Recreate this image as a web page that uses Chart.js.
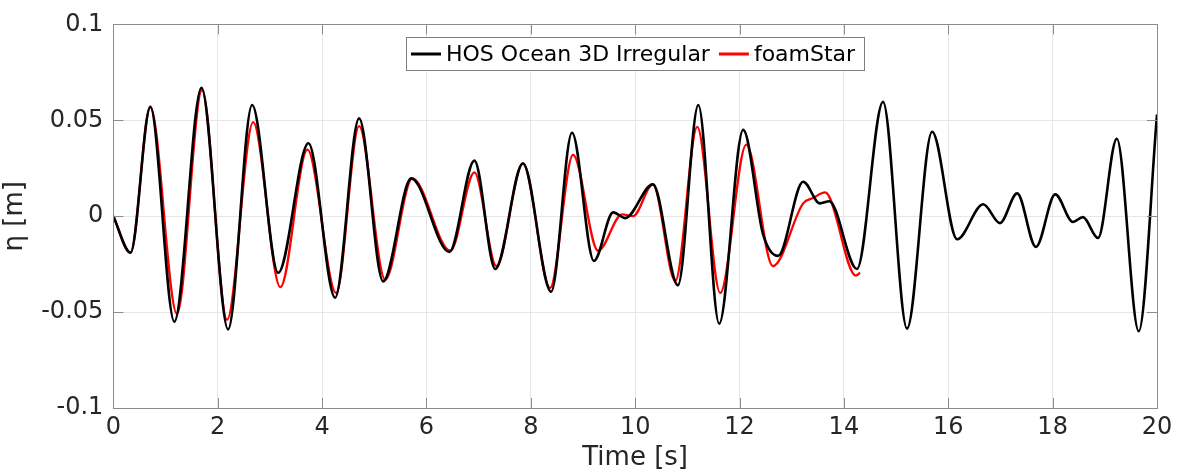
<!DOCTYPE html>
<html>
<head>
<meta charset="utf-8">
<script src="https://cdn.jsdelivr.net/npm/chart.js@4/dist/chart.umd.min.js"></script>
<style>
  html, body { margin: 0; padding: 0; background: #fff; }
  #wrap { width: 1181px; height: 476px; }
</style>
</head>
<body>
<div id="wrap"><canvas id="etaChart"></canvas></div>
<script>
// HOS Ocean 3D Irregular (black)
const hosTime = [0, 0.33, 0.71, 1.17, 1.69, 2.20, 2.66, 3.16, 3.74, 4.25, 4.71, 5.17, 5.71, 6.44, 6.92, 7.32, 7.85, 8.39, 8.79, 9.21, 9.58, 9.81, 10.34, 10.82, 11.21, 11.61, 12.07, 12.45, 12.74, 13.22, 13.54, 13.72, 14.25, 14.75, 15.21, 15.69, 16.17, 16.67, 16.99, 17.32, 17.68, 18.05, 18.39, 18.58, 18.87, 19.23, 19.65, 20.0];
const hosEta = [0, -0.019, 0.057, -0.055, 0.067, -0.059, 0.058, -0.0295, 0.038, -0.0425, 0.051, -0.034, 0.0197, -0.0187, 0.029, -0.0275, 0.0275, -0.0394, 0.0435, -0.0233, 0.002, -0.001, 0.0166, -0.036, 0.058, -0.056, 0.045, -0.0093, -0.0207, 0.018, 0.0067, 0.0078, -0.0275, 0.0596, -0.0586, 0.044, -0.012, 0.0062, -0.0036, 0.0119, -0.016, 0.0114, -0.003, -0.0005, -0.0114, 0.0404, -0.060, 0.053];

// foamStar (red)
const foamTime = [0, 0.33, 0.71, 1.22, 1.70, 2.18, 2.68, 3.20, 3.72, 4.27, 4.71, 5.21, 5.73, 6.46, 6.92, 7.34, 7.85, 8.37, 8.81, 9.29, 9.75, 9.96, 10.34, 10.77, 11.19, 11.63, 12.13, 12.64, 13.22, 13.41, 13.64, 14.23, 14.31];
const foamEta = [0, -0.019, 0.057, -0.051, 0.0658, -0.054, 0.049, -0.037, 0.0347, -0.040, 0.047, -0.033, 0.0197, -0.018, 0.0228, -0.026, 0.0275, -0.0373, 0.032, -0.018, 0.001, 0.0, 0.0166, -0.0337, 0.0466, -0.040, 0.0373, -0.026, 0.0067, 0.0095, 0.0124, -0.031, -0.0295];

const seriesNames = ['HOS Ocean 3D Irregular', 'foamStar'];
const xTicks = [0, 2, 4, 6, 8, 10, 12, 14, 16, 18, 20];
const yTicks = [-0.1, -0.05, 0, 0.05, 0.1];

const FONT = 'DejaVu Sans';
const TEXT = '#262626';

function toPoints(xs, ys) {
    return xs.map((x, i) => ({ x: x, y: ys[i] }));
}

// box around the axes, inward ticks
const framePlugin = {
    id: 'frame',
    afterDatasetsDraw(chart) {
        const ctx = chart.ctx;
        const a = chart.chartArea;
        const xs = chart.scales.x, ys = chart.scales.y;
        ctx.save();
        ctx.strokeStyle = '#8c8c8c';
        ctx.lineWidth = 1;
        ctx.beginPath();
        xTicks.forEach(v => {
            const px = Math.round(xs.getPixelForValue(v)) + 0.5;
            ctx.moveTo(px, a.bottom); ctx.lineTo(px, a.bottom - 10);
            ctx.moveTo(px, a.top); ctx.lineTo(px, a.top + 10);
        });
        yTicks.forEach(v => {
            const py = Math.round(ys.getPixelForValue(v)) + 0.5;
            ctx.moveTo(a.left, py); ctx.lineTo(a.left + 10, py);
            ctx.moveTo(a.right, py); ctx.lineTo(a.right - 10, py);
        });
        ctx.stroke();
        ctx.strokeRect(Math.round(a.left) + 0.5, Math.round(a.top) + 0.5,
            Math.round(a.right - a.left), Math.round(a.bottom - a.top));
        ctx.restore();
    }
};

// legend box inside the axes, top centre (MATLAB style)
const insideLegend = {
    id: 'insideLegend',
    afterDraw(chart) {
        const ctx = chart.ctx;
        const a = chart.chartArea;
        const sets = chart.data.datasets;
        const sample = 30, gapText = 5, gapItem = 9, padL = 5, padR = 9, h = 33;
        ctx.save();
        ctx.font = '22px "' + FONT + '"';
        const widths = sets.map(d => ctx.measureText(d.label).width);
        let total = padL + padR;
        widths.forEach((w, i) => { total += sample + gapText + w + (i ? gapItem : 0); });
        const left = Math.round((a.left + a.right) / 2 - total / 2);
        const top = Math.round(a.top + 13);
        ctx.fillStyle = '#fff';
        ctx.fillRect(left, top, total, h);
        ctx.strokeStyle = '#7f7f7f';
        ctx.lineWidth = 1;
        ctx.strokeRect(left + 0.5, top + 0.5, Math.round(total), h);
        const cy = top + h / 2 + 0.5;
        let x = left + padL;
        sets.forEach((d, i) => {
            if (i) x += gapItem;
            ctx.strokeStyle = d.borderColor;
            ctx.lineWidth = 3;
            ctx.beginPath();
            ctx.moveTo(x, cy); ctx.lineTo(x + sample, cy);
            ctx.stroke();
            x += sample + gapText;
            ctx.fillStyle = '#000';
            ctx.textBaseline = 'middle';
            ctx.fillText(d.label, x, cy + 1);
            x += widths[i];
        });
        ctx.restore();
    }
};

const config = {
    type: 'line',
    data: {
        datasets: [
            {
                label: seriesNames[0],
                data: toPoints(hosTime, hosEta),
                borderColor: '#000000',
                backgroundColor: '#000000',
                borderWidth: 2.6,
                pointRadius: 0,
                cubicInterpolationMode: 'monotone'
            },
            {
                label: seriesNames[1],
                data: toPoints(foamTime, foamEta),
                borderColor: '#ff0000',
                backgroundColor: '#ff0000',
                borderWidth: 2.3,
                pointRadius: 0,
                cubicInterpolationMode: 'monotone'
            }
        ]
    },
    options: {
        responsive: true,
        maintainAspectRatio: false,
        animation: false,
        layout: { padding: { left: 0, right: 24, top: 10, bottom: 2 } },
        plugins: {
            legend: { display: false },
            tooltip: { enabled: false }
        },
        scales: {
            x: {
                type: 'linear',
                min: 0,
                max: 20,
                afterBuildTicks: s => { s.ticks = xTicks.map(v => ({ value: v })); },
                ticks: {
                    font: { family: FONT, size: 24 },
                    color: TEXT,
                    padding: 5,
                    maxRotation: 0,
                    callback: v => String(v)
                },
                grid: { color: '#e6e6e6', drawTicks: false },
                border: { display: false },
                title: {
                    display: true,
                    text: 'Time [s]',
                    font: { family: FONT, size: 26 },
                    color: TEXT,
                    padding: { top: -4, bottom: 0 }
                }
            },
            y: {
                type: 'linear',
                min: -0.1,
                max: 0.1,
                afterBuildTicks: s => { s.ticks = yTicks.map(v => ({ value: v })); },
                ticks: {
                    font: { family: FONT, size: 24 },
                    color: TEXT,
                    padding: 10,
                    callback: v => String(Number(v.toFixed(2)))
                },
                grid: { color: '#e6e6e6', drawTicks: false },
                border: { display: false },
                title: {
                    display: true,
                    text: 'η [m]',
                    font: { family: FONT, size: 26 },
                    color: TEXT,
                    padding: { top: 0, bottom: 0 }
                }
            }
        }
    },
    plugins: [framePlugin, insideLegend]
};

window.onload = function () {
    const ctx = document.getElementById('etaChart').getContext('2d');
    new Chart(ctx, config);
};
</script>
</body>
</html>
